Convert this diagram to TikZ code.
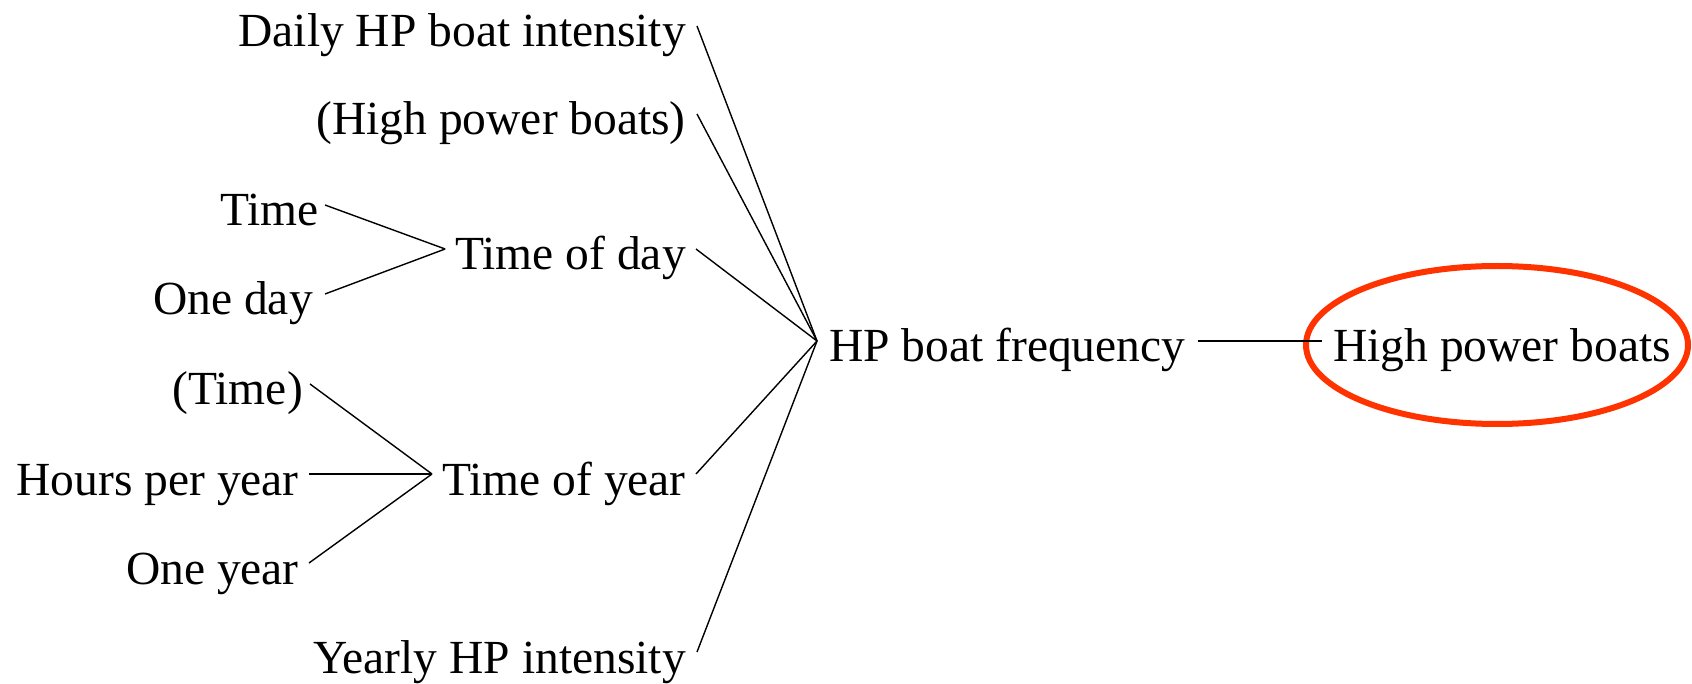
\documentclass[tikz,border=0pt]{standalone}
\usepackage{fontspec}
\setmainfont{Liberation Serif}
\usetikzlibrary{shapes.geometric}
\definecolor{ringred}{RGB}{255,51,0}
\begin{document}
\begin{tikzpicture}[x=1pt,y=-1pt,
  lbl/.style={font=\fontsize{47.5}{56}\selectfont, inner ysep=0pt, inner xsep=11pt,
              text height=42pt, text depth=0pt},
  link/.style={draw=black, line width=1.4pt},
  ring/.style={ellipse, draw=ringred, line width=6pt, inner sep=0pt,
               minimum width=382pt, minimum height=158pt}]
\useasboundingbox (0,0) rectangle (1692,684);

% first level causes, right-aligned column
\node[lbl, anchor=base east] (daily) at (697,47)  {Daily HP boat intensity};
\node[lbl, anchor=base east] (hpbp)  at (697,135) {(High power boats)};
\node[lbl, anchor=base east, inner xsep=10pt] (tod) at (696,270) {Time of day};
\node[lbl, anchor=base east, inner xsep=10pt] (toy) at (696,495) {Time of year};
\node[lbl, anchor=base east] (yearly) at (697,673) {Yearly HP intensity};

% causes of time of day
\node[lbl, anchor=base east, inner xsep=6pt]  (time)   at (325,226) {Time};
\node[lbl, anchor=base east, inner xsep=12pt] (oneday) at (325,315) {One day};

% causes of time of year
\node[lbl, anchor=base east, inner xsep=7pt]  (ptime)  at (310,405) {(Time)};
\node[lbl, anchor=base east, inner xsep=10pt] (hours)  at (309,495) {Hours per year};
\node[lbl, anchor=base east, inner xsep=10pt] (oneyr)  at (309,584) {One year};

% frequency and the result variable
\node[lbl, anchor=base west, inner xsep=12pt] (freq) at (817,362) {HP boat frequency};
\node[lbl, anchor=base west] (hpb) at (1322,362) {High power boats};
\node[ring] (hpbring) at (1497,345) {};

% connectors
\draw[link] (time.east) -- (tod.west);
\draw[link] (oneday.east) -- (tod.west);
\draw[link] (ptime.east) -- (toy.west);
\draw[link] (hours.east) -- (toy.west);
\draw[link] (oneyr.east) -- (toy.west);
\draw[link] (daily.east) -- (freq.west);
\draw[link] (hpbp.east) -- (freq.west);
\draw[link] (tod.east) -- (freq.west);
\draw[link] (toy.east) -- (freq.west);
\draw[link] (yearly.east) -- (freq.west);
\draw[link] (freq.east) -- (hpb.west);
\end{tikzpicture}
\end{document}
